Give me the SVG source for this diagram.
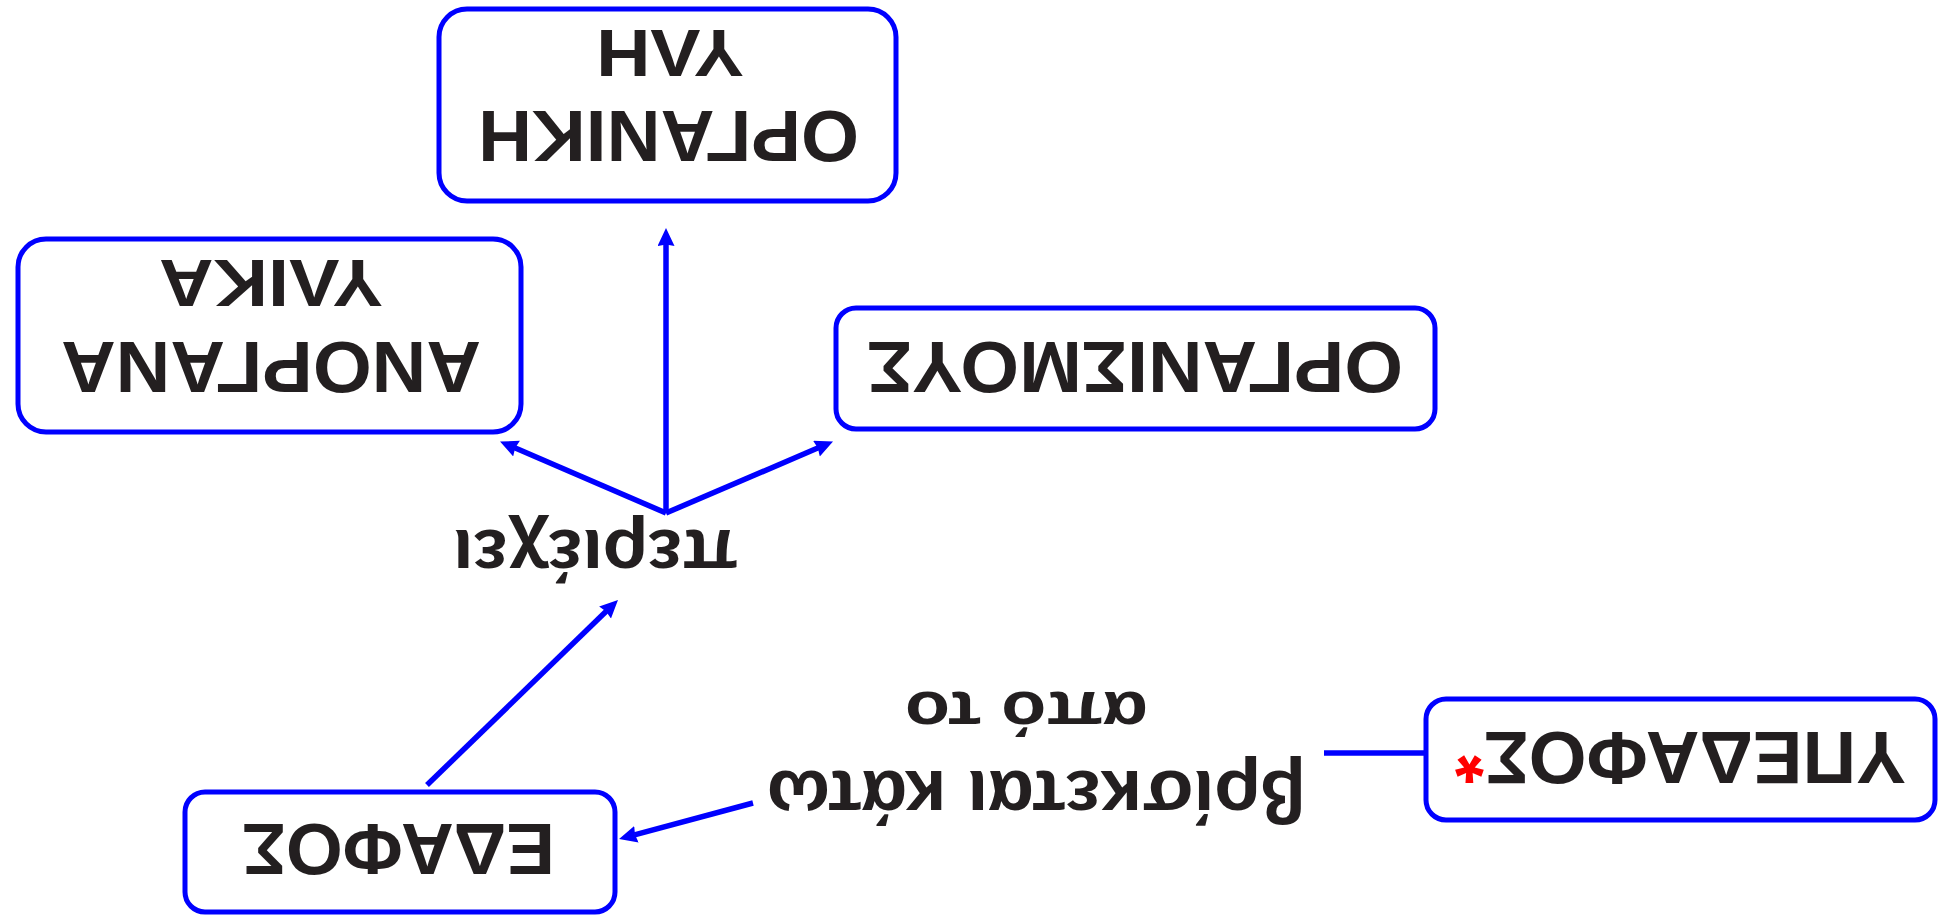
<svg xmlns="http://www.w3.org/2000/svg" width="1955" height="921" viewBox="0 0 1955 921">
<defs>
<style>
.box{fill:#ffffff;stroke:#0000ff;stroke-width:5}
.t{font-family:"Liberation Sans",Arial,sans-serif;font-weight:bold;fill:#231f20;text-anchor:middle}
.c{fill:none;stroke:#0000ff;stroke-width:5.5}
.ast{fill:#ff0000}
</style>
<marker id="ah" markerUnits="userSpaceOnUse" markerWidth="20" markerHeight="18" refX="2" refY="8.5" orient="auto">
<path d="M0,0 L18,8.5 L0,17 L1.5,8.5 z" fill="#0000ff"/>
</marker>
</defs>
<rect width="1955" height="921" fill="#ffffff"/>
<g id="connectors">
<line class="c" x1="666" y1="513" x2="666" y2="244" marker-end="url(#ah)"/>
<line class="c" x1="666" y1="513" x2="514.7" y2="447.8" marker-end="url(#ah)"/>
<line class="c" x1="666" y1="513" x2="818.3" y2="447.8" marker-end="url(#ah)"/>
<line class="c" x1="427" y1="785" x2="606.5" y2="611.1" marker-end="url(#ah)"/>
<line class="c" x1="1424" y1="753" x2="1324" y2="753"/>
<line class="c" x1="753" y1="803" x2="634.5" y2="834.8" marker-end="url(#ah)"/>
<g id="label-periexei"><text class="t" font-size="73" textLength="285" lengthAdjust="spacingAndGlyphs" transform="translate(595.5 530) rotate(180)">περιέχει</text></g>
<g id="label-vrisketai">
<text class="t" font-size="74" textLength="539" lengthAdjust="spacingAndGlyphs" transform="translate(1036.5 771) rotate(180)">βρίσκεται κάτω</text>
<text class="t" font-size="62" textLength="243" lengthAdjust="spacingAndGlyphs" transform="translate(1026.5 692) rotate(180)">από το</text>
</g>
</g>
<g id="node-organiki">
<rect class="box" x="439" y="9" width="457" height="192" rx="28"/>
<text class="t" font-size="73" textLength="381" lengthAdjust="spacingAndGlyphs" transform="translate(668.5 111) rotate(180)">ΟΡΓΑΝΙΚΗ</text>
<text class="t" font-size="67" textLength="148" lengthAdjust="spacingAndGlyphs" transform="translate(670 30) rotate(180)">ΥΛΗ</text>
</g>
<g id="node-anorgana">
<rect class="box" x="18" y="239" width="503" height="193" rx="28"/>
<text class="t" font-size="73" textLength="420" lengthAdjust="spacingAndGlyphs" transform="translate(271 342) rotate(180)">ΑΝΟΡΓΑΝΑ</text>
<text class="t" font-size="66" textLength="224" lengthAdjust="spacingAndGlyphs" transform="translate(271 260) rotate(180)">ΥΛΙΚΑ</text>
</g>
<g id="node-organismous">
<rect class="box" x="836" y="308" width="599" height="121" rx="20"/>
<text class="t" font-size="73" textLength="536" lengthAdjust="spacingAndGlyphs" transform="translate(1135 342) rotate(180)">ΟΡΓΑΝΙΣΜΟΥΣ</text>
</g>
<g id="node-edafos">
<rect class="box" x="185" y="792" width="430" height="120" rx="20"/>
<text class="t" font-size="73" textLength="313" lengthAdjust="spacingAndGlyphs" transform="translate(398.5 824) rotate(180)">ΕΔΑΦΟΣ</text>
</g>
<g id="node-ypedafos">
<rect class="box" x="1426" y="699" width="509" height="121" rx="20"/>
<text class="t" font-size="74" textLength="451" lengthAdjust="spacingAndGlyphs" transform="translate(1680.5 732) rotate(180)">ΥΠΕΔΑΦΟΣ<tspan class="ast">*</tspan></text>
</g>
</svg>
